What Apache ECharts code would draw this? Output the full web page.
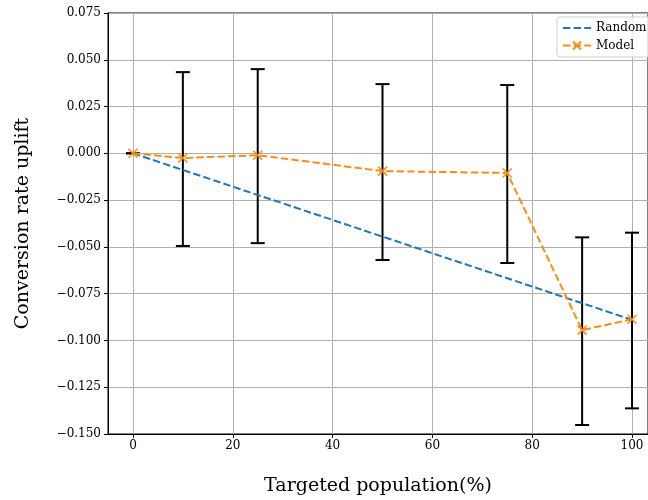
<!DOCTYPE html>
<html>
<head>
<meta charset="utf-8">
<script src="https://cdn.jsdelivr.net/npm/echarts@6/dist/echarts.min.js"></script>
<style>
  html, body { margin: 0; padding: 0; background: #fff; }
  #chart { width: 648px; height: 500px; }
</style>
</head>
<body>
<div id="chart"></div>
<script>
// data
const randomX = [0, 100];
const randomY = [0, -0.089];
const modelX = [0, 10, 25, 50, 75, 90, 100];
const modelY = [0, -0.0025, -0.001, -0.0095, -0.0105, -0.0945, -0.0887];
const errLow = [0, -0.0495, -0.048, -0.057, -0.0586, -0.1452, -0.1363];
const errHigh = [0, 0.0434, 0.045, 0.037, 0.0365, -0.0449, -0.0424];
const xTicks = [0, 20, 40, 60, 80, 100];

const FONT = 'DejaVu Serif';
const ORANGE = '#fb8d12';

function fmtY(v) {
    var s = v.toFixed(3);
    if (s === '-0.000') s = '0.000';
    return s.replace('-', '\u2212');
}

const chart = echarts.init(document.getElementById('chart'));

const option = {
    animation: false,
    textStyle: { fontFamily: FONT },
    grid: {
        left: 108, right: 0, top: 13, bottom: 66,
        outerBoundsMode: 'none',
        show: true, borderColor: '#000', borderWidth: 1
    },
    legend: {
        data: [
            { name: 'Random', itemStyle: { opacity: 0 } },
            { name: 'Model' }
        ],
        orient: 'vertical',
        left: 557,
        top: 17,
        itemWidth: 28,
        itemHeight: 10,
        itemGap: 5,
        padding: [5, 30, 5, 5],
        borderColor: '#d0d0d0',
        borderWidth: 1,
        borderRadius: 3,
        backgroundColor: 'rgba(255,255,255,0.8)',
        textStyle: { fontFamily: FONT, fontSize: 12, color: '#000' }
    },
    xAxis: {
        type: 'value',
        min: -5,
        max: 103.2,
        name: 'Targeted population(%)',
        nameLocation: 'middle',
        nameGap: 43,
        nameTextStyle: { fontFamily: FONT, fontSize: 19, color: '#000' },
        axisLine: { onZero: false, lineStyle: { color: '#000' } },
        axisTick: { customValues: xTicks, length: 4, lineStyle: { color: '#000' } },
        axisLabel: { customValues: xTicks, color: '#000', fontSize: 12, margin: 6 },
        splitLine: { show: true, lineStyle: { color: '#b0b0b0', width: 1 } }
    },
    yAxis: {
        type: 'value',
        min: -0.15,
        max: 0.075,
        interval: 0.025,
        name: 'Conversion rate uplift',
        nameLocation: 'middle',
        nameGap: 75,
        nameTextStyle: { fontFamily: FONT, fontSize: 19, color: '#000' },
        axisLine: { show: true, onZero: false, lineStyle: { color: '#000' } },
        axisTick: { show: true, length: 4, lineStyle: { color: '#000' } },
        axisLabel: { color: '#000', fontSize: 12, margin: 7, formatter: fmtY },
        splitLine: { show: true, lineStyle: { color: '#b0b0b0', width: 1 } }
    },
    series: [
        {
            name: 'Model err',
            type: 'custom',
            z: 2,
            data: modelX.map((x, i) => [x, errLow[i], errHigh[i]]),
            renderItem: function (params, api) {
                const lo = api.coord([api.value(0), api.value(1)]);
                const hi = api.coord([api.value(0), api.value(2)]);
                const w = 7;
                const style = { stroke: '#000', lineWidth: 2, fill: null };
                return {
                    type: 'group',
                    children: [
                        { type: 'line', shape: { x1: lo[0], y1: lo[1], x2: hi[0], y2: hi[1] }, style: style },
                        { type: 'line', shape: { x1: lo[0] - w, y1: lo[1], x2: lo[0] + w, y2: lo[1] }, style: style },
                        { type: 'line', shape: { x1: hi[0] - w, y1: hi[1], x2: hi[0] + w, y2: hi[1] }, style: style }
                    ]
                };
            }
        },
        {
            name: 'Random',
            type: 'line',
            z: 3,
            data: randomX.map((x, i) => [x, randomY[i]]),
            showSymbol: false,
            symbol: 'none',
            lineStyle: { color: '#1f77b4', width: 2, type: [7.4, 3.2] },
            itemStyle: { color: '#1f77b4' }
        },
        {
            name: 'Model',
            type: 'line',
            z: 4,
            data: modelX.map((x, i) => [x, modelY[i]]),
            symbol: 'path://M0,0L10,10M10,0L0,10',
            symbolSize: 9,
            lineStyle: { color: ORANGE, width: 2, type: [7.4, 3.2] },
            itemStyle: { color: 'none', borderColor: ORANGE, borderWidth: 1.5 }
        }
    ]
};

chart.setOption(option);
</script>
</body>
</html>
